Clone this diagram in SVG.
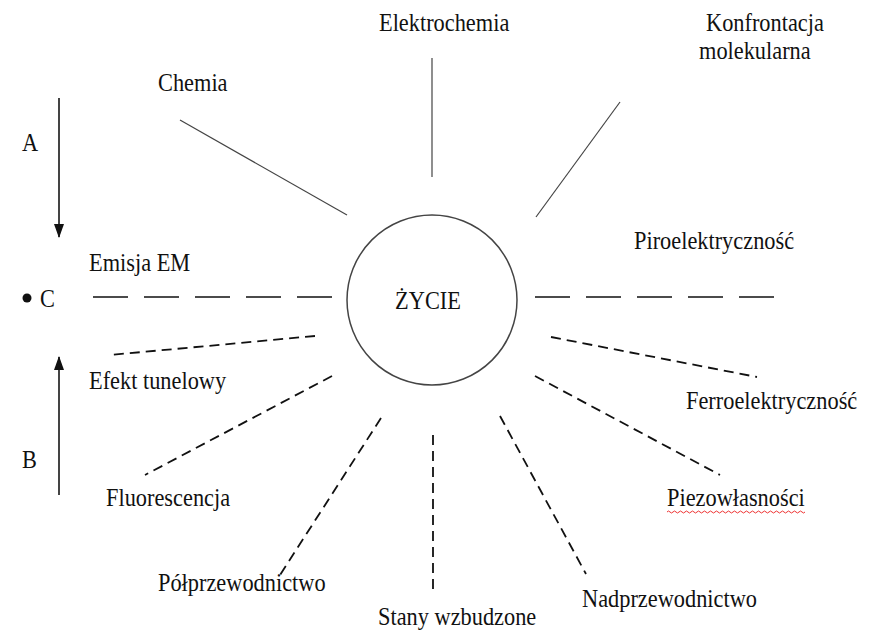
<svg xmlns="http://www.w3.org/2000/svg" width="872" height="630" viewBox="0 0 872 630">
<style>
  text { font-family: "Liberation Serif", "Times New Roman", serif; font-size: 26px; fill: #111; }
  .solid { stroke: #444; stroke-width: 1.2; fill: none; }
  .long { stroke: #111; stroke-width: 1.5; stroke-dasharray: 35 16; fill: none; }
  .short { stroke: #111; stroke-width: 1.8; stroke-dasharray: 10 6; fill: none; }
  .arrow { stroke: #444; stroke-width: 2; fill: none; }
</style>
<defs>
  <marker id="ah" viewBox="0 0 14 10" refX="13" refY="5" markerWidth="14" markerHeight="10" markerUnits="userSpaceOnUse" orient="auto">
    <path d="M0,0 L14,5 L0,10 Z" fill="#111"/>
  </marker>
</defs>
<rect width="872" height="630" fill="#fff"/>
<g id="connectors">
  <line class="solid" x1="180" y1="120" x2="347" y2="215"/>
  <line class="solid" x1="432" y1="58" x2="432" y2="177"/>
  <line class="solid" x1="620" y1="102" x2="536" y2="217"/>
  <line class="long" x1="93" y1="297" x2="335" y2="297"/>
  <line class="long" x1="535" y1="297" x2="775" y2="297"/>
  <line class="short" x1="315" y1="336" x2="110" y2="355"/>
  <line class="short" x1="332" y1="376" x2="145" y2="475"/>
  <line class="short" x1="381" y1="418" x2="280" y2="575"/>
  <line class="short" x1="433" y1="435" x2="433" y2="593"/>
  <line class="short" x1="500" y1="416" x2="586" y2="574"/>
  <line class="short" x1="535" y1="376" x2="720" y2="475"/>
  <line class="short" x1="551" y1="337" x2="757" y2="377"/>
  <line class="arrow" x1="59" y1="98" x2="59" y2="237" marker-end="url(#ah)"/>
  <line class="arrow" x1="59" y1="495" x2="59" y2="357" marker-end="url(#ah)"/>
</g>
<g id="zycie">
  <circle cx="432" cy="300" r="85" fill="none" stroke="#444" stroke-width="1.5"/>
  <text transform="translate(428,309) scale(0.86,1)" text-anchor="middle">ŻYCIE</text>
</g>
<g id="chemia"><text transform="translate(158,91) scale(0.86,1)">Chemia</text></g>
<g id="elektrochemia"><text transform="translate(379,31) scale(0.86,1)">Elektrochemia</text></g>
<g id="konfrontacja"><text transform="translate(706,31) scale(0.86,1)">Konfrontacja</text><text transform="translate(699,59) scale(0.86,1)">molekularna</text></g>
<g id="label-a"><text transform="translate(22,151) scale(0.86,1)">A</text></g>
<g id="label-b"><text transform="translate(22,468) scale(0.86,1)">B</text></g>
<g id="label-c"><circle cx="27" cy="298" r="4.5" fill="#111"/><text transform="translate(40,307) scale(0.86,1)">C</text></g>
<g id="emisja"><text transform="translate(89,271) scale(0.86,1)">Emisja EM</text></g>
<g id="piro"><text transform="translate(634,249) scale(0.86,1)">Piroelektryczność</text></g>
<g id="tunel"><text transform="translate(89,389) scale(0.86,1)">Efekt tunelowy</text></g>
<g id="ferro"><text transform="translate(686,409) scale(0.86,1)">Ferroelektryczność</text></g>
<g id="fluo"><text transform="translate(106,506) scale(0.86,1)">Fluorescencja</text></g>
<g id="piezo"><text transform="translate(667,506) scale(0.86,1)">Piezowłasności</text>
  <path d="M667,512 q1.5,-2 3,0 t3,0 t3,0 t3,0 t3,0 t3,0 t3,0 t3,0 t3,0 t3,0 t3,0 t3,0 t3,0 t3,0 t3,0 t3,0 t3,0 t3,0 t3,0 t3,0 t3,0 t3,0 t3,0 t3,0 t3,0 t3,0 t3,0 t3,0 t3,0 t3,0 t3,0 t3,0 t3,0 t3,0 t3,0 t3,0 t3,0 t3,0 t3,0 t3,0 t3,0 t3,0 t3,0 t3,0 t3,0 t3,0" fill="none" stroke="#e33" stroke-width="1"/>
</g>
<g id="polprz"><text transform="translate(158,591) scale(0.86,1)">Półprzewodnictwo</text></g>
<g id="stany"><text transform="translate(378,625) scale(0.86,1)">Stany wzbudzone</text></g>
<g id="nadprz"><text transform="translate(582,607) scale(0.86,1)">Nadprzewodnictwo</text></g>
</svg>
